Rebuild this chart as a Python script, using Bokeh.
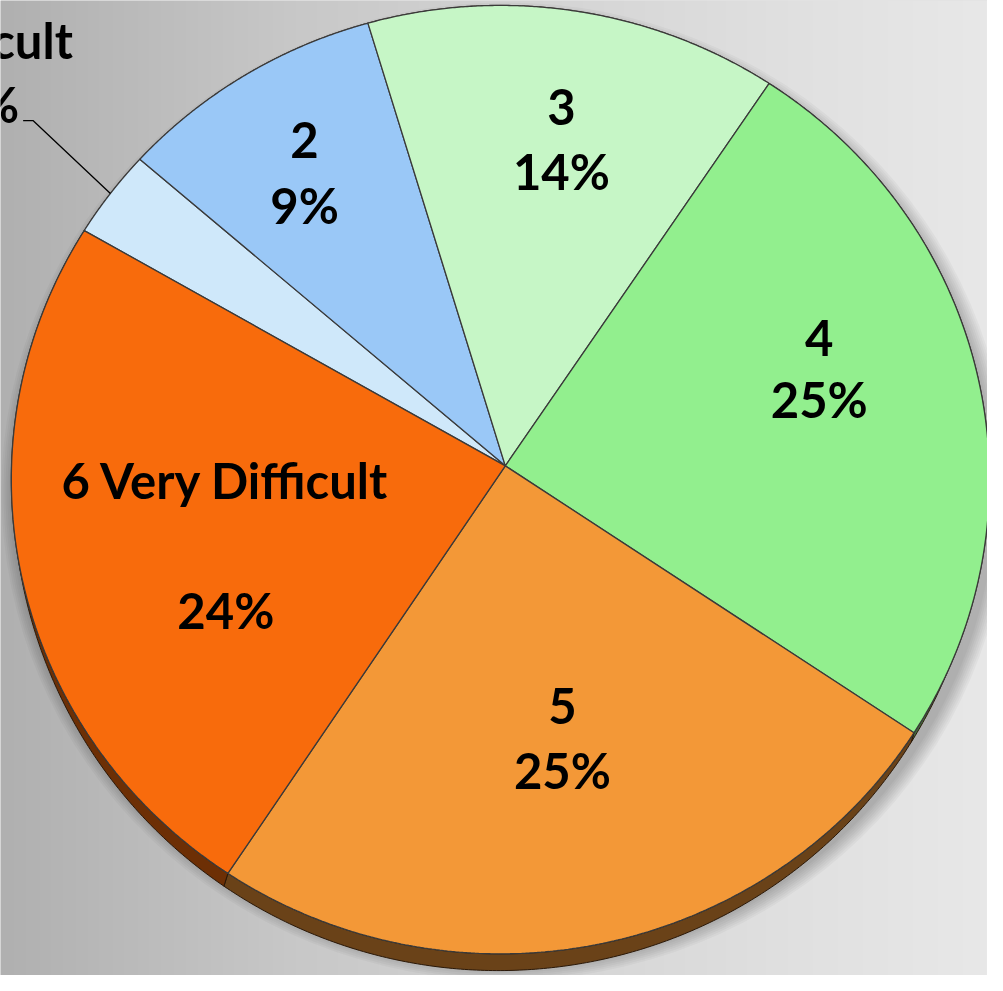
import numpy as np
from bokeh.plotting import figure
from bokeh.models import Range1d
from bokeh.embed import file_html
from bokeh.resources import INLINE
from bokeh.core.properties import value

# ---------------- data ----------------
categories = ["1 Not Difficult", "2", "3", "4", "5", "6 Very Difficult"]
category_lines = [["Difficult"], ["2"], ["3"], ["4"], ["5"], ["6 Very Difficult", ""]]
shares = [3.0, 9.1, 14.4, 24.6, 25.3, 23.6]          # percent
colors = ["#CFE8FA", "#9AC8F7", "#C6F6C6", "#92EF8E", "#F39837", "#F86B0C"]

# ---------------- layout / style ----------------
W, H = 1003, 991
CX, CY = 508.0, 487.0      # ellipse centre of top face
RX, RY = 497.0, 482.0      # ellipse radii
VX, VY = 513.0, 473.0      # pie apex (perspective)
# bottom (side) ellipse
BSX, BSY = -2.0, 10.0      # shift of the bottom ellipse centre / apex
BRX, BRY = RX - 4.0, RY + 7.0
START_DEG = 150.8          # first slice starts here, slices go clockwise
FONT = value("Lato")
FONT_SIZE = "49px"
TEXT_SHIFT = -17

label_x = [-16, 309, 570, 832, 571, 229]
label_base = [57, 159, 125, 360, 734, 504]
label_gap = [65, 66, 65, 62, 65, 66]


def ray_hit(theta_deg, vx, vy, cx, cy, rx, ry):
    th = np.radians(theta_deg)
    dx, dy = np.cos(th), -np.sin(th)
    ux, uy = vx - cx, vy - cy
    a = dx ** 2 / rx ** 2 + dy ** 2 / ry ** 2
    b = 2 * (ux * dx / rx ** 2 + uy * dy / ry ** 2)
    c = ux ** 2 / rx ** 2 + uy ** 2 / ry ** 2 - 1
    t = (-b + np.sqrt(b * b - 4 * a * c)) / (2 * a)
    return vx + t * dx, vy + t * dy


def top_hit(th):
    return ray_hit(th, VX, VY, CX, CY, RX, RY)


def bottom_hit(th):
    return ray_hit(th, VX + BSX, VY + BSY, CX + BSX, CY + BSY, BRX, BRY)


def darken(hexcol, f):
    r, g, b = int(hexcol[1:3], 16), int(hexcol[3:5], 16), int(hexcol[5:7], 16)
    return "#%02x%02x%02x" % (int(r * f), int(g * f), int(b * f))


cum = np.concatenate([[0], np.cumsum(shares)])
total = cum[-1]
starts = START_DEG - cum[:-1] / total * 360.0
ends = START_DEG - cum[1:] / total * 360.0

top_xs, top_ys, side_xs, side_ys = [], [], [], []
for s, e in zip(starts, ends):
    th = np.linspace(s, e, 200)
    ax, ay = top_hit(th)
    top_xs.append(np.concatenate([[VX], ax, [VX]]).tolist())
    top_ys.append(np.concatenate([[VY], ay, [VY]]).tolist())
    bx, by = bottom_hit(th)
    side_xs.append(np.concatenate([ax, bx[::-1]]).tolist())
    side_ys.append(np.concatenate([ay, by[::-1]]).tolist())

side_colors = [darken(c, 0.44) for c in colors]

p = figure(width=987, height=975, x_range=Range1d(0, W), y_range=Range1d(H, 0),
           output_backend="svg", toolbar_location=None, min_border=0,
           x_axis_location=None, y_axis_location=None)
p.grid.visible = False
p.outline_line_color = None
p.background_fill_color = "#c8c8c8"
p.border_fill_color = "#c8c8c8"

# background gradient
gx = np.linspace(0, W, 512)
gray = np.interp(gx, [0, 300, 800, 1003], [176, 200, 224, 232]).astype(np.uint8)
img = np.empty((2, 512), dtype=np.uint32)
view = img.view(dtype=np.uint8).reshape((2, 512, 4))
view[:, :, 0] = gray
view[:, :, 1] = gray
view[:, :, 2] = gray
view[:, :, 3] = 255
p.image_rgba(image=[img], x=0, y=0, dw=W, dh=H)

# soft shadow
for k in range(8):
    p.ellipse(x=CX + 5, y=CY + 12, width=2 * (RX + 1 + 2 * k), height=2 * (RY + 1 + 2 * k),
              fill_color="black", fill_alpha=0.03, line_color=None)

# side (thickness)
p.patches(side_xs, side_ys, fill_color=side_colors, line_color="#2a1808", line_width=1.0)
# top faces
p.patches(top_xs, top_ys, fill_color=colors, line_color="#3a3a3a", line_width=1.3)

# leader line for the small slice
mid0 = (starts[0] + ends[0]) / 2
lx, ly = top_hit(np.array([mid0]))
p.line([23, 33, lx[0]], [122, 122, ly[0]], line_color="black", line_width=1.3)

# labels
tx, ty, tt = [], [], []
for i in range(len(categories)):
    lines = category_lines[i] + ["%d%%" % round(shares[i])]
    for j, ln in enumerate(lines):
        if ln:
            tx.append(label_x[i])
            ty.append(label_base[i] + j * label_gap[i] + TEXT_SHIFT)
            tt.append(ln)
p.text(x=tx, y=ty, text=tt, text_align="center", text_baseline="alphabetic",
       text_font=FONT, text_font_style="bold", text_font_size=FONT_SIZE, text_color="black")

open("out.html", "w").write(file_html(p, INLINE))
